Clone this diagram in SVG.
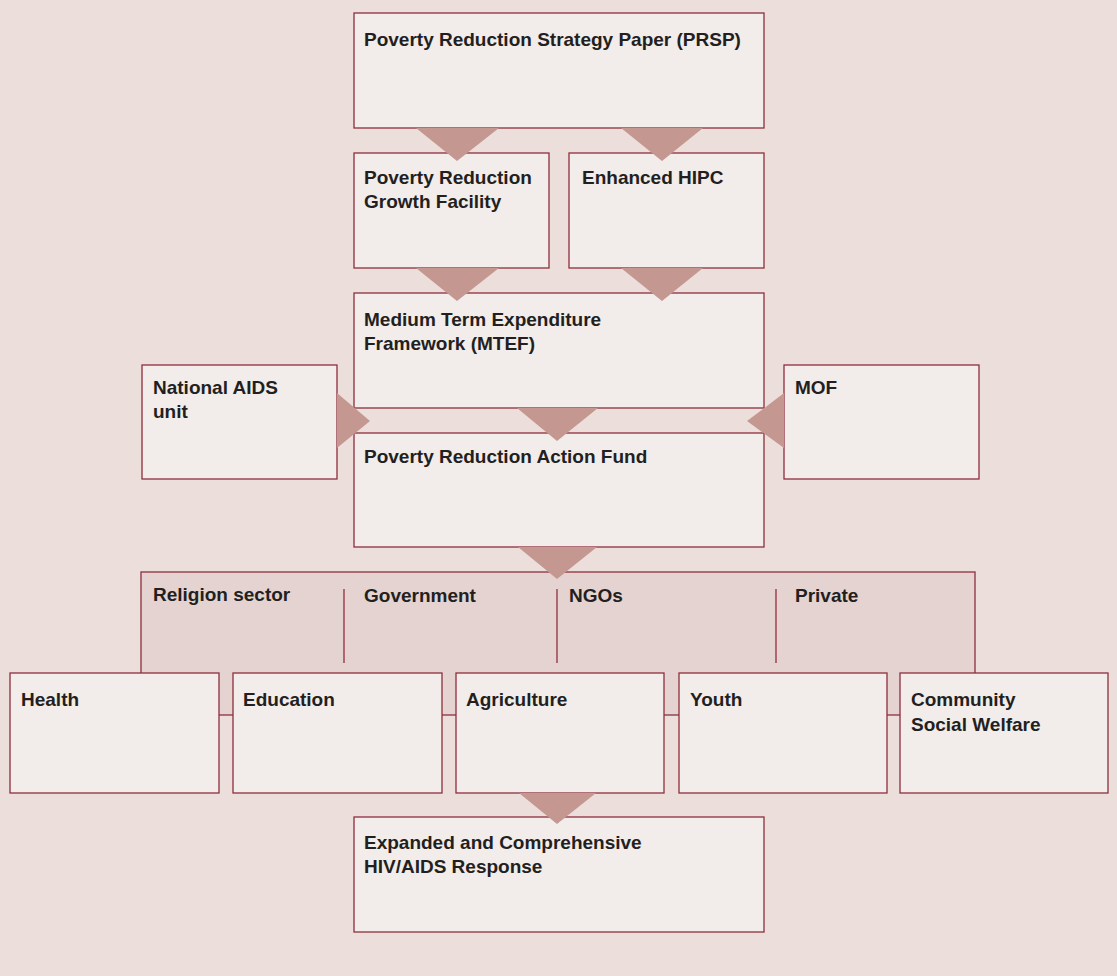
<svg xmlns="http://www.w3.org/2000/svg" width="1117" height="976" viewBox="0 0 1117 976">
  <style>
    .bg { fill: #ecdfdb; }
    .box { fill: #f2ecea; stroke: #8e2f3c; stroke-width: 1.3; }
    .band { fill: #e4d3d0; stroke: #8e2f3c; stroke-width: 1.3; }
    .div { stroke: #8e2f3c; stroke-width: 1.3; fill: none; }
    .arrow { fill: #c49891; }
    text { font-family: "Liberation Sans", Arial, sans-serif; font-weight: bold; font-size: 19px; fill: #231f20; }
  </style>
  <rect class="bg" x="0" y="0" width="1117" height="976"/>

  <!-- sector band behind the bottom row -->
  <g id="sectors">
    <rect class="band" x="141" y="572" width="834" height="143"/>
    <line class="div" x1="344" y1="589" x2="344" y2="663"/>
    <line class="div" x1="557" y1="589" x2="557" y2="663"/>
    <line class="div" x1="776" y1="589" x2="776" y2="663"/>
    <text x="153" y="601">Religion sector</text>
    <text x="364" y="602">Government</text>
    <text x="569" y="602">NGOs</text>
    <text x="795" y="602">Private</text>
  </g>

  <g id="prsp">
    <rect class="box" x="354" y="13" width="410" height="115"/>
    <text x="364" y="46">Poverty Reduction Strategy Paper (PRSP)</text>
  </g>
  <g id="prgf">
    <rect class="box" x="354" y="153" width="195" height="115"/>
    <text x="364" y="184">Poverty Reduction</text>
    <text x="364" y="208">Growth Facility</text>
  </g>
  <g id="hipc">
    <rect class="box" x="569" y="153" width="195" height="115"/>
    <text x="582" y="184">Enhanced HIPC</text>
  </g>
  <g id="mtef">
    <rect class="box" x="354" y="293" width="410" height="115"/>
    <text x="364" y="326">Medium Term Expenditure</text>
    <text x="364" y="350">Framework (MTEF)</text>
  </g>
  <g id="nau">
    <rect class="box" x="142" y="365" width="195" height="114"/>
    <text x="153" y="394">National AIDS</text>
    <text x="153" y="418">unit</text>
  </g>
  <g id="mof">
    <rect class="box" x="784" y="365" width="195" height="114"/>
    <text x="795" y="394">MOF</text>
  </g>
  <g id="praf">
    <rect class="box" x="354" y="433" width="410" height="114"/>
    <text x="364" y="463">Poverty Reduction Action Fund</text>
  </g>
  <g id="health">
    <rect class="box" x="10" y="673" width="209" height="120"/>
    <text x="21" y="706">Health</text>
  </g>
  <g id="education">
    <rect class="box" x="233" y="673" width="209" height="120"/>
    <text x="243" y="706">Education</text>
  </g>
  <g id="agriculture">
    <rect class="box" x="456" y="673" width="208" height="120"/>
    <text x="466" y="706">Agriculture</text>
  </g>
  <g id="youth">
    <rect class="box" x="679" y="673" width="208" height="120"/>
    <text x="690" y="706">Youth</text>
  </g>
  <g id="community">
    <rect class="box" x="900" y="673" width="208" height="120"/>
    <text x="911" y="706">Community</text>
    <text x="911" y="731">Social Welfare</text>
  </g>
  <g id="response">
    <rect class="box" x="354" y="817" width="410" height="115"/>
    <text x="364" y="849">Expanded and Comprehensive</text>
    <text x="364" y="873">HIV/AIDS Response</text>
  </g>

  <!-- flow arrows -->
  <g id="connectors">
    <polygon class="arrow" points="416,128 499,128 457,161"/>
    <polygon class="arrow" points="621,128 703,128 662,161"/>
    <polygon class="arrow" points="416,268 499,268 457,301"/>
    <polygon class="arrow" points="621,268 703,268 662,301"/>
    <polygon class="arrow" points="517,408 598,408 557,441"/>
    <polygon class="arrow" points="337,393 337,448 370,421"/>
    <polygon class="arrow" points="784,393 784,448 747,421"/>
    <polygon class="arrow" points="518,547 597,547 557,579"/>
    <polygon class="arrow" points="519,793 596,793 557,824"/>
  </g>
</svg>
